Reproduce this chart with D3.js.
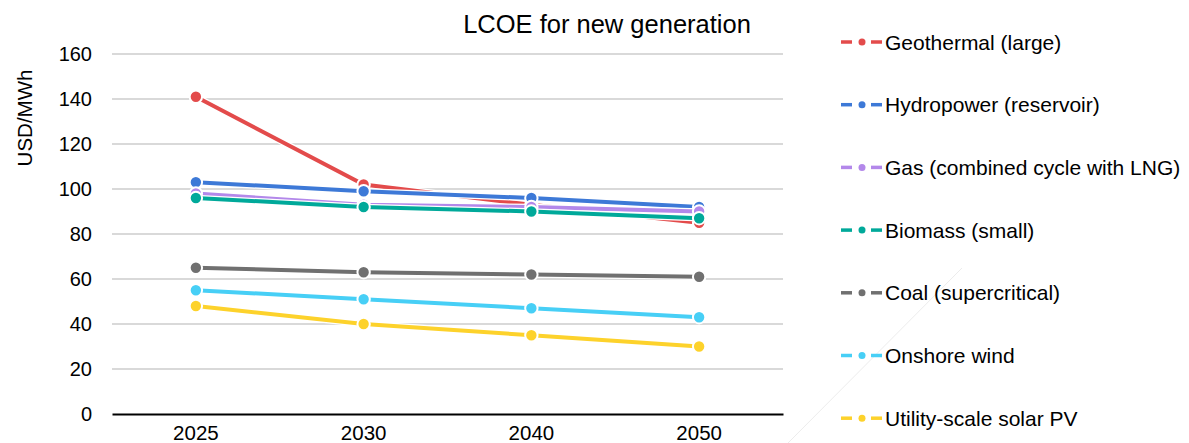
<!DOCTYPE html>
<html>
<head>
<meta charset="utf-8">
<script src="https://cdn.jsdelivr.net/npm/d3@7"></script>
<style>
  body { margin: 0; background: #fff; }
  text { font-family: "Liberation Sans", Arial, sans-serif; fill: #000; }
</style>
</head>
<body>
<script>
'use strict';
const years = ['2025', '2030', '2040', '2050'];
const seriesNames = ['Geothermal (large)', 'Hydropower (reservoir)', 'Gas (combined cycle with LNG)',
    'Biomass (small)', 'Coal (supercritical)', 'Onshore wind', 'Utility-scale solar PV'];
const geothermal = [141, 102, 93, 85];
const hydropower = [103, 99, 96, 92];
const gas = [98, 93, 92, 90];
const biomass = [96, 92, 90, 87];
const coal = [65, 63, 62, 61];
const wind = [55, 51, 47, 43];
const solar = [48, 40, 35, 30];
const yTicks = [0, 20, 40, 60, 80, 100, 120, 140, 160];
const colors = ['#e34b4b', '#3d79d7', '#b388ea', '#00a99a', '#707070', '#47cff6', '#fdd22b'];

(function() {
    const allValues = [geothermal, hydropower, gas, biomass, coal, wind, solar];
    const series = seriesNames.map((name, i) => ({name: name, values: allValues[i], color: colors[i]}));

    const plot = {left: 112, right: 783, top: 54, bottom: 414};

    const svg = d3.select('body').append('svg')
        .attr('width', 1189)
        .attr('height', 443);

    const x = d3.scaleBand().domain(years).range([plot.left, plot.right]);
    const y = d3.scaleLinear().domain([0, 160]).range([plot.bottom, plot.top]);

    // faint artifact line at the bottom right
    svg.append('line')
        .attr('x1', 962).attr('y1', 268).attr('x2', 788).attr('y2', 443)
        .attr('stroke', '#ececec').attr('stroke-width', 1);

    // gridlines
    svg.append('g').selectAll('line')
        .data(yTicks.filter(d => d > 0))
        .enter().append('line')
        .attr('x1', plot.left).attr('x2', plot.right)
        .attr('y1', d => y(d)).attr('y2', d => y(d))
        .attr('stroke', '#d9d9d9').attr('stroke-width', 2);

    // y axis labels
    const yAxis = d3.axisLeft(y).tickValues(yTicks).tickSize(0).tickPadding(20);
    const yg = svg.append('g').attr('transform', 'translate(' + plot.left + ',0)').call(yAxis);
    yg.select('.domain').remove();
    yg.selectAll('text').style('font-size', '20px').attr('font-family', null).attr('fill', '#000');

    // x axis
    const xAxis = d3.axisBottom(x).tickSize(0).tickPadding(11);
    const xg = svg.append('g').attr('transform', 'translate(0,' + plot.bottom + ')').call(xAxis);
    xg.select('.domain').attr('stroke', '#000').attr('stroke-width', 2);
    xg.selectAll('text').style('font-size', '20.5px').attr('font-family', null).attr('fill', '#000');

    const line = d3.line()
        .x((d, i) => x(years[i]) + x.bandwidth() / 2)
        .y(d => y(d));

    series.forEach((s) => {
        const g = svg.append('g');
        g.append('path')
            .attr('d', line(s.values))
            .attr('fill', 'none')
            .attr('stroke', '#fff')
            .attr('stroke-width', 6.5);
        g.append('path')
            .attr('d', line(s.values))
            .attr('fill', 'none')
            .attr('stroke', s.color)
            .attr('stroke-width', 4);
        g.selectAll('circle')
            .data(s.values)
            .enter().append('circle')
            .attr('cx', (d, i) => x(years[i]) + x.bandwidth() / 2)
            .attr('cy', d => y(d))
            .attr('r', 6.2)
            .attr('fill', s.color)
            .attr('stroke', '#fff')
            .attr('stroke-width', 2);
    });

    // title
    svg.append('text')
        .attr('x', 607)
        .attr('y', 33)
        .attr('text-anchor', 'middle')
        .style('font-size', '25.5px')
        .text('LCOE for new generation');

    // y axis title
    svg.append('text')
        .attr('transform', 'translate(32, 118) rotate(-90)')
        .attr('text-anchor', 'middle')
        .style('font-size', '20.5px')
        .text('USD/MWh');

    // legend
    const legend = svg.append('g');
    series.forEach((s, i) => {
        const cy = 42 + i * 62.7;
        const item = legend.append('g').attr('transform', 'translate(0,' + cy + ')');
        item.append('line').attr('x1', 841).attr('x2', 852).attr('y1', 0).attr('y2', 0)
            .attr('stroke', s.color).attr('stroke-width', 3.5);
        item.append('line').attr('x1', 871).attr('x2', 882).attr('y1', 0).attr('y2', 0)
            .attr('stroke', s.color).attr('stroke-width', 3.5);
        item.append('circle').attr('cx', 862).attr('cy', 0).attr('r', 3.5).attr('fill', s.color);
        item.append('text')
            .attr('x', 885)
            .attr('y', 0)
            .attr('dy', '0.36em')
            .style('font-size', '21px')
            .text(s.name);
    });
})();
</script>
</body>
</html>
